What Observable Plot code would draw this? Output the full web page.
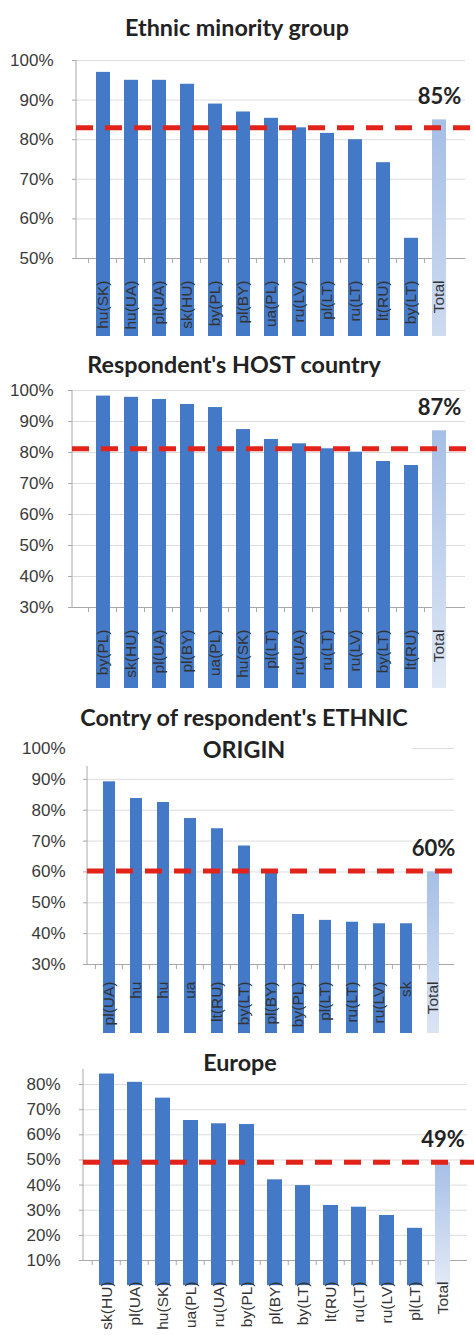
<!DOCTYPE html>
<html>
<head>
<meta charset="utf-8">
<script src="https://cdn.jsdelivr.net/npm/d3@7"></script>
<script src="https://cdn.jsdelivr.net/npm/@observablehq/plot@0.6"></script>
<style>
  body { margin: 0; background: #fff; width: 474px; }
  .panel { position: relative; width: 474px; }
  .panel svg { display: block; }
  .title {
    position: absolute; transform: translateX(-50%) scaleX(1.06);
    font-family: Lato, "Open Sans", sans-serif; font-weight: bold; font-size: 22px;
    color: #222; background: #fff; text-align: center; line-height: 32px; white-space: nowrap;
    padding: 0 4px;
  }
  g[aria-label="y-axis tick"] path, g[aria-label="x-axis tick"] path { stroke: #a8a8a8; }
</style>
</head>
<body>
<div id="charts"></div>
<script>
// Share of respondents, by group, for four frames of reference
const ethnicCats = ["hu(SK)", "hu(UA)", "pl(UA)", "sk(HU)", "by(PL)", "pl(BY)", "ua(PL)", "ru(LV)", "pl(LT)", "ru(LT)", "lt(RU)", "by(LT)", "Total"];
const ethnicValues = [97, 95, 95, 94, 89, 87, 85.4, 83, 81.6, 80, 74.2, 55.1, 85];
const ethnicRef = 83;

const hostCats = ["by(PL)", "sk(HU)", "pl(UA)", "pl(BY)", "ua(PL)", "hu(SK)", "pl(LT)", "ru(UA)", "ru(LT)", "ru(LV)", "by(LT)", "lt(RU)", "Total"];
const hostValues = [98.2, 97.8, 97.1, 95.5, 94.5, 87.4, 84.2, 82.8, 81.2, 80.1, 77.1, 75.8, 87];
const hostRef = 81.2;

const originCats = ["pl(UA)", "hu", "hu", "ua", "lt(RU)", "by(LT)", "pl(BY)", "by(PL)", "pl(LT)", "ru(LT)", "ru(LV)", "sk", "Total"];
const originValues = [89.2, 83.8, 82.5, 77.3, 74, 68.4, 60.5, 46.2, 44.3, 43.7, 43.2, 43.2, 60];
const originRef = 60.3;

const europeCats = ["sk(HU)", "pl(UA)", "hu(SK)", "ua(PL)", "ru(UA)", "by(PL)", "pl(BY)", "by(LT)", "lt(RU)", "ru(LT)", "ru(LV)", "pl(LT)", "Total"];
const europeValues = [84.2, 80.9, 74.6, 65.7, 64.4, 64.1, 42.1, 39.8, 31.9, 31.2, 27.9, 22.8, 49];
const europeRef = 49.1;

const panelTitles = [
  ["Ethnic minority group"],
  ["Respondent's HOST country"],
  ["Contry of respondent's ETHNIC", "ORIGIN"],
  ["Europe"]
];

const W = 474;
const BAR = "#4379c6";

function makePanel(cfg) {
  const {cats, values, ref, yDomain, yTicks, height, marginTop, marginBottom, marginLeft, marginRight,
         insetLeft, padding, yPad, xPad, gradId} = cfg;
  const idx = d3.range(cats.length);
  const last = cats.length - 1;
  const step = (W - marginLeft - marginRight - insetLeft) / cats.length;

  return Plot.plot({
    width: W, height, marginTop, marginBottom, marginLeft, marginRight,
    style: {fontFamily: "'Liberation Sans', Arial, sans-serif", background: "#fff"},
    x: {domain: idx, padding, insetLeft, axis: null},
    y: {domain: yDomain, axis: null},
    marks: [
      // gradient used by the Total bar
      () => {
        const defs = d3.create("svg:defs");
        const g = defs.append("linearGradient").attr("id", gradId)
          .attr("x1", 0).attr("y1", 0).attr("x2", 0).attr("y2", 1);
        g.append("stop").attr("offset", "0%").attr("stop-color", "#a6bfe6");
        g.append("stop").attr("offset", "100%").attr("stop-color", "#e2eaf6");
        return defs.node();
      },
      Plot.ruleY(yTicks.slice(1), {stroke: "#dcdcdc", strokeWidth: 1}),
      Plot.ruleY([yDomain[0]], {stroke: "#a8a8a8"}),
      // vertical value axis line
      (index, scales, vals, dims) => {
        const line = d3.create("svg:line")
          .attr("x1", dims.marginLeft).attr("x2", dims.marginLeft)
          .attr("y1", dims.marginTop).attr("y2", dims.height - dims.marginBottom)
          .attr("stroke", "#a8a8a8");
        return line.node();
      },
      Plot.axisY({ticks: yTicks, tickFormat: d => d + "%", tickSize: 4, tickPadding: yPad,
                  fontSize: 17, fill: "#3a3a3a"}),
      Plot.barY(idx.slice(0, last), {x: i => i, y: i => values[i], fill: BAR}),
      Plot.barY([last], {x: i => i, y: i => values[i], fill: `url(#${gradId})`}),
      Plot.ruleY([ref], {stroke: "#e2231a", strokeWidth: 5, strokeDasharray: "17,12", insetRight: -10}),
      Plot.text([last], {x: i => i, y: i => values[i], text: i => Math.round(values[i]) + "%",
                         dy: -23, fontSize: 22, fontWeight: "bold", fill: "#222",
                         fontFamily: "Lato, 'Open Sans', sans-serif"}),
      // category separators on the baseline
      Plot.axisX({tickSize: 5, tickFormat: () => "", dx: -step / 2}),
      Plot.axisX({tickFormat: i => cats[i], tickRotate: -90, tickSize: 0, tickPadding: xPad,
                  fontSize: 15.5, fill: "#333"})
    ]
  });
}

const panels = [
  {cats: ethnicCats, values: ethnicValues, ref: ethnicRef, yDomain: [50, 100], yTicks: [50, 60, 70, 80, 90, 100],
   height: 336, marginTop: 60, marginBottom: 78, marginLeft: 76, marginRight: 9, insetLeft: 1, padding: 0.5,
   yPad: 19, xPad: 22, gradId: "g1", titleX: 237, titleY: 12},
  {cats: hostCats, values: hostValues, ref: hostRef, yDomain: [30, 100], yTicks: [30, 40, 50, 60, 70, 80, 90, 100],
   height: 352, marginTop: 54, marginBottom: 81, marginLeft: 72, marginRight: 9, insetLeft: 5, padding: 0.5,
   yPad: 15, xPad: 22, gradId: "g2", titleX: 234, titleY: 13},
  {cats: originCats, values: originValues, ref: originRef, yDomain: [30, 100], yTicks: [30, 40, 50, 60, 70, 80, 90, 100],
   height: 345, marginTop: 60, marginBottom: 69, marginLeft: 87, marginRight: 20, insetLeft: 0, padding: 0.56,
   yPad: 18, xPad: 17, gradId: "g3", titleX: 244, titleY: 14},
  {cats: europeCats, values: europeValues, ref: europeRef, yDomain: [10, 86], yTicks: [10, 20, 30, 40, 50, 60, 70, 80],
   height: 302, marginTop: 36, marginBottom: 75, marginLeft: 83, marginRight: 7, insetLeft: 0, padding: 0.45,
   yPad: 19, xPad: 21, gradId: "g4", titleX: 240, titleY: 14}
];

const root = document.getElementById("charts");
panels.forEach((cfg, k) => {
  const div = document.createElement("div");
  div.className = "panel";
  div.appendChild(makePanel(cfg));
  const title = document.createElement("div");
  title.className = "title";
  title.style.left = cfg.titleX + "px";
  title.style.top = cfg.titleY + "px";
  title.innerHTML = panelTitles[k].join("<br>");
  div.appendChild(title);
  root.appendChild(div);
});
</script>
</body>
</html>
